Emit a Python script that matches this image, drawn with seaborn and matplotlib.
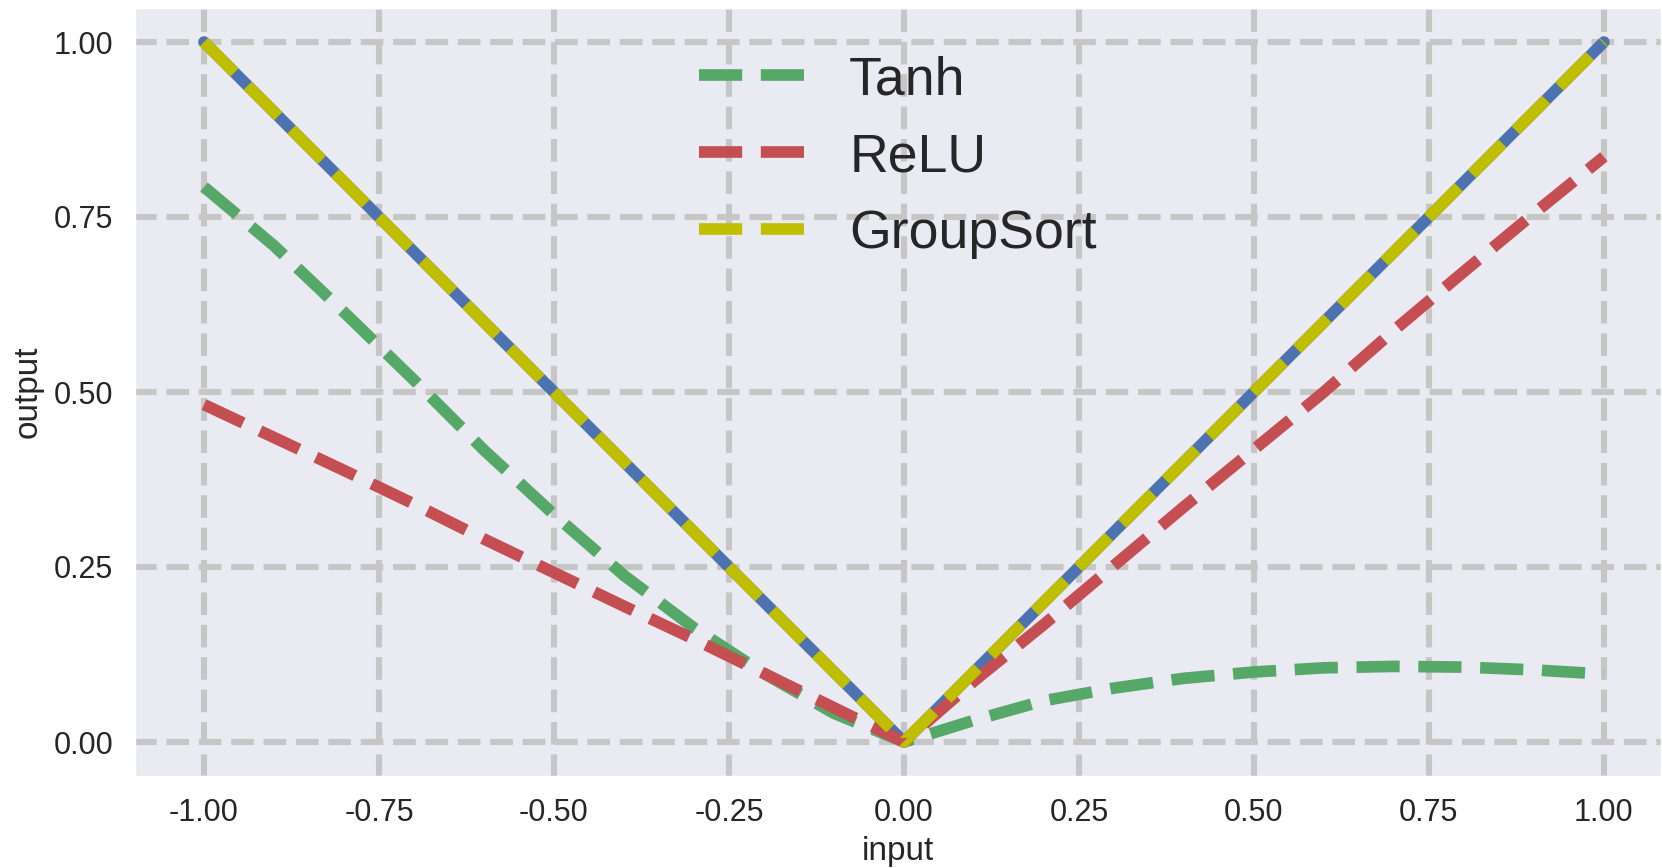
import matplotlib
matplotlib.use("Agg")
import matplotlib.pyplot as plt
import pandas as pd
import seaborn as sns

# Network input grid and the responses of each activation variant
x_in = [-1.0, -0.9, -0.8, -0.7, -0.6, -0.5, -0.4, -0.3, -0.2, -0.1, 0.0,
        0.1, 0.2, 0.3, 0.4, 0.5, 0.6, 0.7, 0.8, 0.9, 1.0]
target = [1.0, 0.9, 0.8, 0.7, 0.6, 0.5, 0.4, 0.3, 0.2, 0.1, 0.0,
          0.1, 0.2, 0.3, 0.4, 0.5, 0.6, 0.7, 0.8, 0.9, 1.0]
tanh_out = [0.793, 0.709, 0.614, 0.517, 0.417, 0.325, 0.238, 0.163, 0.098, 0.041, 0.0,
            0.031, 0.059, 0.077, 0.091, 0.100, 0.106, 0.108, 0.107, 0.103, 0.097]
relu_out = [0.482, 0.435, 0.388, 0.340, 0.290, 0.242, 0.194, 0.147, 0.098, 0.049, 0.0,
            0.087, 0.168, 0.252, 0.336, 0.418, 0.500, 0.588, 0.672, 0.755, 0.836]
groupsort_out = [1.0, 0.9, 0.8, 0.7, 0.6, 0.5, 0.4, 0.3, 0.2, 0.1, 0.0,
                 0.1, 0.2, 0.3, 0.4, 0.5, 0.6, 0.7, 0.8, 0.9, 1.0]

series_labels = ["Tanh", "ReLU", "GroupSort"]
x_ticks = [-1.0, -0.75, -0.5, -0.25, 0.0, 0.25, 0.5, 0.75, 1.0]
y_ticks = [0.0, 0.25, 0.5, 0.75, 1.0]

df = pd.DataFrame({"input": x_in, "target": target, "Tanh": tanh_out,
                   "ReLU": relu_out, "GroupSort": groupsort_out})

sns.set_theme(style="darkgrid", rc={
    "grid.color": "#c6c6c6",
    "grid.linestyle": "--",
    "grid.linewidth": 2.2,
    "axes.facecolor": "#eaeaf2",
})
plt.rcParams["font.family"] = ["Liberation Sans", "DejaVu Sans"]

fig = plt.figure(figsize=(1662 / 200, 868 / 200), dpi=200)
ax = fig.add_axes([134 / 1662, 91 / 868, 1 - 134 / 1662, (777 - 7) / 868])

lw = 4.2
sns.lineplot(data=df, x="input", y="target", color="#4c72b0", lw=lw,
             legend=False, ax=ax)
colors = {"Tanh": "#55a868", "ReLU": "#c44e52", "GroupSort": "#bfbf00"}
for name in series_labels:
    sns.lineplot(data=df, x="input", y=name, color=colors[name], lw=lw,
                 linestyle="--", label=name, ax=ax)

ax.set_xlim(-1.1, 1.083)
ax.set_ylim(-0.05, 1.05)
ax.set_xticks(x_ticks)
ax.set_yticks(y_ticks)
ax.xaxis.set_major_formatter(matplotlib.ticker.FormatStrFormatter("%.2f"))
ax.yaxis.set_major_formatter(matplotlib.ticker.FormatStrFormatter("%.2f"))
ax.tick_params(axis="both", labelsize=11, pad=7.5, length=0)
ax.set_xlabel("input", fontsize=12, labelpad=3)
ax.set_ylabel("output", fontsize=12, labelpad=3.5)

ax.legend(loc="upper center", fontsize=19.3, frameon=False, handlelength=2.0,
          labelspacing=0.5, borderaxespad=0.5)

fig.savefig("out.png", dpi=200)
